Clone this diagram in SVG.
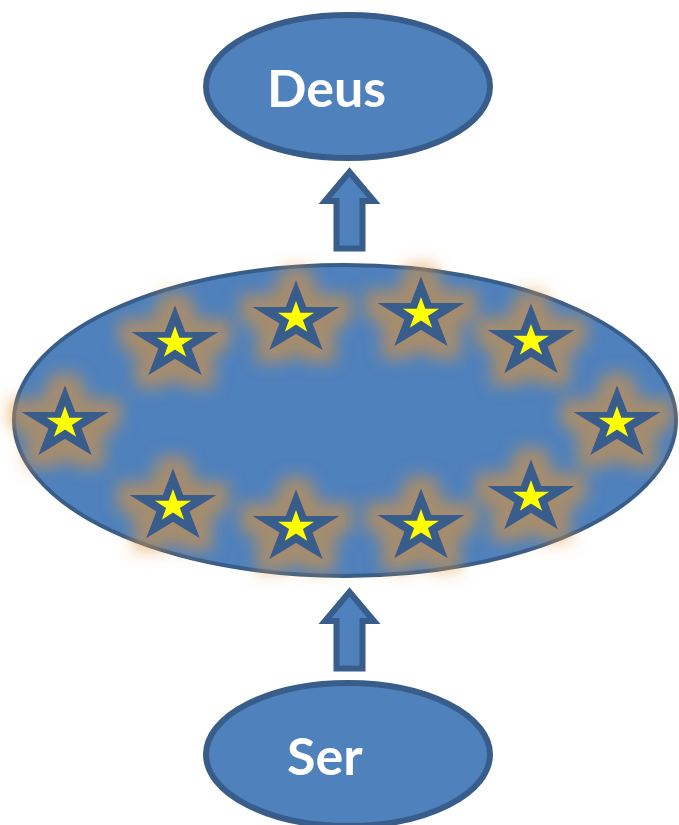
<svg xmlns="http://www.w3.org/2000/svg" xmlns:xlink="http://www.w3.org/1999/xlink" width="679" height="825" viewBox="0 0 679 825">
  <style>
    .node { fill: #4f81bd; stroke: #385d8a; }
    .label { font-family: Lato, "Open Sans", "Liberation Sans", sans-serif; font-weight: bold; font-size: 52px; fill: #ffffff; }
    .arrow { fill: #4f81bd; stroke: #385d8a; stroke-width: 6; stroke-linejoin: miter; stroke-miterlimit: 10; }
    .star-outer { fill: #385d8a; }
    .star-inner { fill: #ffff00; }
  </style>
  <defs>
    <polygon id="unitstar" points="0,-1 0.2245,-0.309 0.9511,-0.309 0.3633,0.118 0.5878,0.809 0,0.382 -0.5878,0.809 -0.3633,0.118 -0.9511,-0.309 -0.2245,-0.309"/>
    <g id="star">
      <use xlink:href="#unitstar" class="star-outer" transform="scale(46,39)"/>
      <use xlink:href="#unitstar" class="star-inner" transform="translate(0,-1) scale(19,17)"/>
    </g>
    <filter id="glow" x="-80%" y="-80%" width="260%" height="260%" filterUnits="objectBoundingBox">
      <feMorphology in="SourceAlpha" operator="dilate" radius="13" result="d"/>
      <feGaussianBlur in="d" stdDeviation="8" result="b"/>
      <feFlood flood-color="#e39535" flood-opacity="0.58"/>
      <feComposite in2="b" operator="in" result="g"/>
      <feMerge>
        <feMergeNode in="g"/>
        <feMergeNode in="SourceGraphic"/>
      </feMerge>
    </filter>
  </defs>

  <g id="deus">
    <ellipse class="node" cx="348" cy="86.5" rx="142" ry="71.5" stroke-width="6"/>
    <text class="label" x="267" y="107">Deus</text>
  </g>

  <g id="ser">
    <ellipse class="node" cx="348" cy="754.5" rx="142" ry="71.5" stroke-width="6"/>
    <text class="label" x="287" y="775">Ser</text>
  </g>

  <g id="estrelas">
    <ellipse class="node" cx="345" cy="420.5" rx="331" ry="155.5" stroke-width="4"/>
    <g id="stars">
      <use xlink:href="#star" x="175" y="344" filter="url(#glow)"/>
      <use xlink:href="#star" x="296" y="319" filter="url(#glow)"/>
      <use xlink:href="#star" x="421" y="315" filter="url(#glow)"/>
      <use xlink:href="#star" x="531" y="342" filter="url(#glow)"/>
      <use xlink:href="#star" x="65" y="424" filter="url(#glow)"/>
      <use xlink:href="#star" x="617" y="424" filter="url(#glow)"/>
      <use xlink:href="#star" x="173" y="507" filter="url(#glow)"/>
      <use xlink:href="#star" x="296" y="528" filter="url(#glow)"/>
      <use xlink:href="#star" x="421" y="527" filter="url(#glow)"/>
      <use xlink:href="#star" x="531" y="498" filter="url(#glow)"/>
    </g>
  </g>

  <g id="connectors">
    <polygon class="arrow" points="349.5,172 374,201 362.5,201 362.5,248.5 336.5,248.5 336.5,201 325,201"/>
    <polygon class="arrow" points="349.5,592 374,621 362.5,621 362.5,668.5 336.5,668.5 336.5,621 325,621"/>
  </g>
</svg>
